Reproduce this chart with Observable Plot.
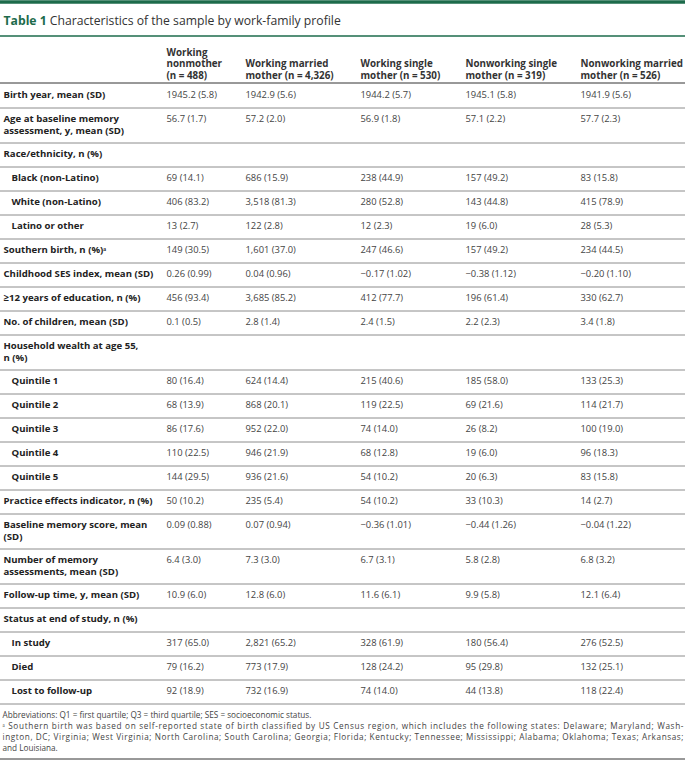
<!DOCTYPE html>
<html><head><meta charset="utf-8">
<script src="https://cdn.jsdelivr.net/npm/d3@7"></script>
<script src="https://cdn.jsdelivr.net/npm/@observablehq/plot@0.6"></script>
<style>body{margin:0;background:#fff;} svg{display:block;}</style>
</head><body><div id="chart"></div>
<script>
const tableNumber = "Table 1";
const tableTitle = "Characteristics of the sample by work-family profile";
const columnHeaders = [
  "Working\nnonmother\n(n = 488)",
  "Working married\nmother (n = 4,326)",
  "Working single\nmother (n = 530)",
  "Nonworking single\nmother (n = 319)",
  "Nonworking married\nmother (n = 526)"
];
const rowLabels = [
  "Birth year, mean (SD)",
  "Age at baseline memory\nassessment, y, mean (SD)",
  "Race/ethnicity, n (%)",
  "Black (non-Latino)",
  "White (non-Latino)",
  "Latino or other",
  "Southern birth, n (%)ᵃ",
  "Childhood SES index, mean (SD)",
  "≥12 years of education, n (%)",
  "No. of children, mean (SD)",
  "Household wealth at age 55,\nn (%)",
  "Quintile 1", "Quintile 2", "Quintile 3", "Quintile 4", "Quintile 5",
  "Practice effects indicator, n (%)",
  "Baseline memory score, mean\n(SD)",
  "Number of memory\nassessments, mean (SD)",
  "Follow-up time, y, mean (SD)",
  "Status at end of study, n (%)",
  "In study", "Died", "Lost to follow-up"
];
const rowIndented = [false,false,false,true,true,true,false,false,false,false,false,
  true,true,true,true,true,false,false,false,false,false,true,true,true];
const workingNonmother = ["1945.2 (5.8)","56.7 (1.7)","","69 (14.1)","406 (83.2)","13 (2.7)","149 (30.5)","0.26 (0.99)","456 (93.4)","0.1 (0.5)","",
  "80 (16.4)","68 (13.9)","86 (17.6)","110 (22.5)","144 (29.5)","50 (10.2)","0.09 (0.88)","6.4 (3.0)","10.9 (6.0)","","317 (65.0)","79 (16.2)","92 (18.9)"];
const workingMarriedMother = ["1942.9 (5.6)","57.2 (2.0)","","686 (15.9)","3,518 (81.3)","122 (2.8)","1,601 (37.0)","0.04 (0.96)","3,685 (85.2)","2.8 (1.4)","",
  "624 (14.4)","868 (20.1)","952 (22.0)","946 (21.9)","936 (21.6)","235 (5.4)","0.07 (0.94)","7.3 (3.0)","12.8 (6.0)","","2,821 (65.2)","773 (17.9)","732 (16.9)"];
const workingSingleMother = ["1944.2 (5.7)","56.9 (1.8)","","238 (44.9)","280 (52.8)","12 (2.3)","247 (46.6)","−0.17 (1.02)","412 (77.7)","2.4 (1.5)","",
  "215 (40.6)","119 (22.5)","74 (14.0)","68 (12.8)","54 (10.2)","54 (10.2)","−0.36 (1.01)","6.7 (3.1)","11.6 (6.1)","","328 (61.9)","128 (24.2)","74 (14.0)"];
const nonworkingSingleMother = ["1945.1 (5.8)","57.1 (2.2)","","157 (49.2)","143 (44.8)","19 (6.0)","157 (49.2)","−0.38 (1.12)","196 (61.4)","2.2 (2.3)","",
  "185 (58.0)","69 (21.6)","26 (8.2)","19 (6.0)","20 (6.3)","33 (10.3)","−0.44 (1.26)","5.8 (2.8)","9.9 (5.8)","","180 (56.4)","95 (29.8)","44 (13.8)"];
const nonworkingMarriedMother = ["1941.9 (5.6)","57.7 (2.3)","","83 (15.8)","415 (78.9)","28 (5.3)","234 (44.5)","−0.20 (1.10)","330 (62.7)","3.4 (1.8)","",
  "133 (25.3)","114 (21.7)","100 (19.0)","96 (18.3)","83 (15.8)","14 (2.7)","−0.04 (1.22)","6.8 (3.2)","12.1 (6.4)","","276 (52.5)","132 (25.1)","118 (22.4)"];
const footnotes = [
  "Abbreviations: Q1 = first quartile; Q3 = third quartile; SES = socioeconomic status.",
  "ᵃ Southern birth was based on self-reported state of birth classified by US Census region, which includes the following states: Delaware; Maryland; Wash-",
  "ington, DC; Virginia; West Virginia; North Carolina; South Carolina; Georgia; Florida; Kentucky; Tennessee; Mississippi; Alabama; Oklahoma; Texas; Arkansas;",
  "and Louisiana."
];

// ---- layout (not data) ----
const W = 685, H = 766;
const FONT = "Open Sans";
const green = "#1d6b4b";
const colX = [3, 166, 245, 360, 465, 580];
const indentX = 11;
const headerLineY = [52, 63.5, 75];
const headerRuleY = 82.5;
const singleH = 24, doubleH = 35, lineGap = 11.5;
const values = [workingNonmother, workingMarriedMother, workingSingleMother, nonworkingSingleMother, nonworkingMarriedMother];

const labelCells = [], valueCells = [], rules = [];
let rowTop = headerRuleY;
rowLabels.forEach((lab, i) => {
  const lines = lab.split("\n");
  const h = lines.length > 1 ? doubleH : singleH;
  lines.forEach((t, k) => labelCells.push({x: rowIndented[i] ? indentX : colX[0], y: rowTop + 12 + k * lineGap, text: t}));
  values.forEach((col, j) => { if (col[i]) valueCells.push({x: colX[j + 1], y: rowTop + 12, text: col[i]}); });
  rowTop += h;
  rules.push(Math.round(rowTop) + 0.5);
});
const headerCells = [];
columnHeaders.forEach((hd, j) => {
  const lines = hd.split("\n");
  const off = 3 - lines.length;
  lines.forEach((t, k) => headerCells.push({x: colX[j + 1], y: headerLineY[k + off], text: t}));
});
const footY0 = rowTop + 12.5;
const footCells = footnotes.map((t, k) => ({x: 2, y: footY0 + k * 10.8, text: t}));
const bottomRule = footY0 + 3 * 10.8 + 10.5;

// title measure
const TS = 12.2;
const cv = document.createElement("canvas").getContext("2d");
cv.font = `700 ${TS}px "${FONT}"`;
const tw = cv.measureText(tableNumber + " ").width;

const chart = Plot.plot({
  width: W, height: H, margin: 0, axis: null,
  x: {type: "identity"}, y: {type: "identity"},
  style: {fontFamily: FONT, background: "#fff"},
  marks: [
    Plot.ruleY([1.5], {stroke: green, strokeWidth: 3.5}),
    Plot.ruleY([35.5], {stroke: green, strokeWidth: 1.5}),
    Plot.ruleY([headerRuleY], {stroke: "#333", strokeWidth: 1}),
    Plot.ruleY(rules, {stroke: "#8c8c8c", strokeWidth: 1}),
    Plot.ruleY([Math.round(bottomRule) + 0.5], {stroke: "#333", strokeWidth: 1}),
    Plot.text([tableNumber], {x: 3, y: 21, text: d => d, textAnchor: "start", fill: green, fontWeight: 700, fontSize: TS}),
    Plot.text([tableTitle], {x: 3 + tw, y: 21, text: d => d, textAnchor: "start", fill: "#333", fontSize: TS}),
    Plot.text(headerCells, {x: "x", y: "y", text: "text", textAnchor: "start", fill: "#333", fontWeight: 700, fontSize: 9.8}),
    Plot.text(labelCells, {x: "x", y: "y", text: "text", textAnchor: "start", fill: "#222", fontWeight: 700, fontSize: 9.6}),
    Plot.text(valueCells, {x: "x", y: "y", text: "text", textAnchor: "start", fill: "#444", fontSize: 9.4}),
    Plot.text(footCells, {x: "x", y: "y", text: "text", textAnchor: "start", fill: "#444", fontSize: 8.2})
  ]
});
document.getElementById("chart").appendChild(chart);
// justify the middle footnote lines to the full width
const footTexts = Array.from(chart.querySelectorAll("text")).filter(t => footnotes.slice(1,3).includes(t.textContent));
footTexts.forEach(t => { t.setAttribute("textLength", W - 4); t.setAttribute("lengthAdjust", "spacing"); });
</script>
</body></html>
